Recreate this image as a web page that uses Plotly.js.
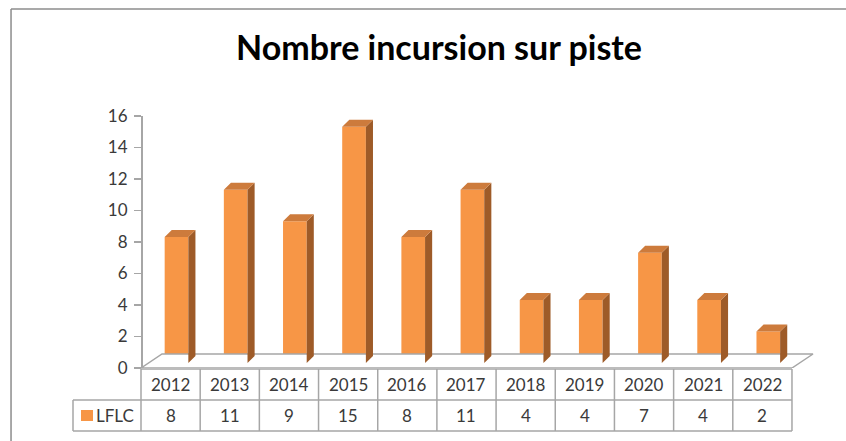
<!DOCTYPE html>
<html>
<head>
<meta charset="utf-8">
<script src="https://cdn.plot.ly/plotly-3.0.1.min.js"></script>
<style>
  html, body { margin: 0; padding: 0; background: #ffffff; overflow: hidden; }
  #chart { width: 846px; height: 441px; overflow: hidden; }
</style>
</head>
<body>
<div id="chart"></div>
<script>
// ---- data ----
const chartTitle = 'Nombre incursion sur piste';
const years = ['2012', '2013', '2014', '2015', '2016', '2017', '2018', '2019', '2020', '2021', '2022'];
const seriesName = 'LFLC';
const lflc = [8, 11, 9, 15, 8, 11, 4, 4, 7, 4, 2];
const yTickVals = [0, 2, 4, 6, 8, 10, 12, 14, 16];

// ---- geometry (styling, in axis units) ----
const BAR_SHIFT = 0.1;
const BAR_W = 0.4;
const BASE_LIFT = 0.32;
const DX = 0.12;
const DY = 0.44;
const FLOOR_DX = 0.355;
const FLOOR_DY = 0.889;

const FRONT = '#F79646';
const TOPC = '#CD7B3C';
const SIDE = '#9E5B28';
const GRID = '#A6A6A6';
const TXT = '#3A3A3A';
const FONT = 'Lato, "Open Sans", sans-serif';

const n = years.length;
const idx = years.map((_, i) => i);
const xMin = -0.5, xMax = n - 0.5;

const floorTrace = {
  type: 'scatter', mode: 'lines', xaxis: 'x', yaxis: 'y',
  x: [xMin, xMax, xMax + FLOOR_DX, xMin + FLOOR_DX, xMin],
  y: [0, 0, FLOOR_DY, FLOOR_DY, 0],
  fill: 'toself', fillcolor: '#ffffff',
  line: { color: GRID, width: 1.5 },
  hoverinfo: 'skip', showlegend: false
};

const frontTrace = {
  type: 'bar', xaxis: 'x', yaxis: 'y', name: seriesName,
  x: idx.map(i => i + BAR_SHIFT), y: lflc, base: BASE_LIFT, width: BAR_W,
  marker: { color: FRONT, line: { width: 0 } },
  showlegend: false
};

const sx = [], sy = [], tx = [], ty = [];
lflc.forEach((v, i) => {
  const xl = i + BAR_SHIFT - BAR_W / 2;
  const xr = i + BAR_SHIFT + BAR_W / 2;
  const b = BASE_LIFT, t = BASE_LIFT + v;
  sx.push(xr, xr + DX, xr + DX, xr, xr, null);
  sy.push(b, b + DY, t + DY, t, b, null);
  tx.push(xl, xr, xr + DX, xl + DX, xl, null);
  ty.push(t, t, t + DY, t + DY, t, null);
});
const sideTrace = {
  type: 'scatter', mode: 'lines', xaxis: 'x', yaxis: 'y',
  x: sx, y: sy, fill: 'toself', fillcolor: SIDE,
  line: { width: 0, color: SIDE }, hoverinfo: 'skip', showlegend: false
};
const topTrace = {
  type: 'scatter', mode: 'lines', xaxis: 'x', yaxis: 'y',
  x: tx, y: ty, fill: 'toself', fillcolor: TOPC,
  line: { width: 0, color: TOPC }, hoverinfo: 'skip', showlegend: false
};

// ---- data table (drawn on y2) ----
const legendLeft = -1.649;
const shapes = [];
const lineStyle = { color: GRID, width: 1.5 };
shapes.push({ type: 'line', xref: 'x', yref: 'y2', x0: xMin, x1: xMax, y0: 0, y1: 0, line: lineStyle });
shapes.push({ type: 'line', xref: 'x', yref: 'y2', x0: legendLeft, x1: xMax, y0: -1, y1: -1, line: lineStyle });
shapes.push({ type: 'line', xref: 'x', yref: 'y2', x0: legendLeft, x1: xMax, y0: -2, y1: -2, line: lineStyle });
shapes.push({ type: 'line', xref: 'x', yref: 'y2', x0: legendLeft, x1: legendLeft, y0: -1, y1: -2, line: lineStyle });
for (let k = 0; k <= n; k++) {
  shapes.push({ type: 'line', xref: 'x', yref: 'y2', x0: xMin + k, x1: xMin + k, y0: 0, y1: -2, line: lineStyle });
}
shapes.push({ type: 'rect', xref: 'x', yref: 'y2', x0: -1.514, x1: -1.311, y0: -1.323, y1: -1.677,
  fillcolor: FRONT, line: { width: 0 } });
// outer chart frame: only top and left edges fall inside the picture
const frameStyle = { color: '#8C8C8C', width: 1.5 };
shapes.push({ type: 'line', xref: 'paper', yref: 'paper', x0: -0.0636, x1: 1.2, y0: 1.2708, y1: 1.2708, line: frameStyle });
shapes.push({ type: 'line', xref: 'paper', yref: 'paper', x0: -0.0636, x1: -0.0636, y0: 1.2708, y1: -0.2, line: frameStyle });

const annotations = [];
years.forEach((yr, i) => {
  annotations.push({ xref: 'x', yref: 'y2', x: i, y: -0.5, text: yr, showarrow: false,
    font: { family: FONT, size: 17, color: TXT }, xanchor: 'center', yanchor: 'middle' });
  annotations.push({ xref: 'x', yref: 'y2', x: i, y: -1.5, text: String(lflc[i]), showarrow: false,
    font: { family: FONT, size: 17, color: TXT }, xanchor: 'center', yanchor: 'middle' });
});
annotations.push({ xref: 'x', yref: 'y2', x: -0.931, y: -1.5, text: seriesName, showarrow: false,
  font: { family: FONT, size: 17, color: TXT }, xanchor: 'center', yanchor: 'middle' });

const layout = {
  width: 846, height: 441,
  margin: { l: 60, r: 16, t: 100, b: 5, pad: 0 },
  paper_bgcolor: '#ffffff', plot_bgcolor: 'rgba(0,0,0,0)',
  showlegend: false,
  title: {
    text: chartTitle,
    font: { family: FONT, size: 34, color: '#000000', weight: 700 },
    xref: 'container', x: 439 / 846, xanchor: 'center',
    yref: 'container', y: 1 - 48 / 441, yanchor: 'middle'
  },
  xaxis: {
    domain: [0, 1], range: [-1.8687, 11.1425],
    showgrid: false, zeroline: false, showline: false, showticklabels: false, ticks: '',
    fixedrange: true
  },
  yaxis: {
    domain: [0.202381, 0.952381], range: [0, 16],
    anchor: 'free', position: 0.105195,
    tickvals: yTickVals, ticktext: yTickVals.map(String),
    ticks: 'outside', ticklen: 7, tickwidth: 1.5, tickcolor: GRID,
    showline: true, linecolor: GRID, linewidth: 1.5,
    showgrid: false, zeroline: false,
    tickfont: { family: FONT, size: 17, color: TXT },
    ticklabelstandoff: 3,
    fixedrange: true
  },
  yaxis2: {
    domain: [0, 0.220238], range: [-2.1613, 0.2258], anchor: 'x',
    showgrid: false, zeroline: false, showline: false, showticklabels: false, ticks: '',
    fixedrange: true
  },
  shapes: shapes,
  annotations: annotations
};

Plotly.newPlot('chart', [floorTrace, frontTrace, sideTrace, topTrace], layout, { displayModeBar: false, staticPlot: true });
</script>
</body>
</html>
